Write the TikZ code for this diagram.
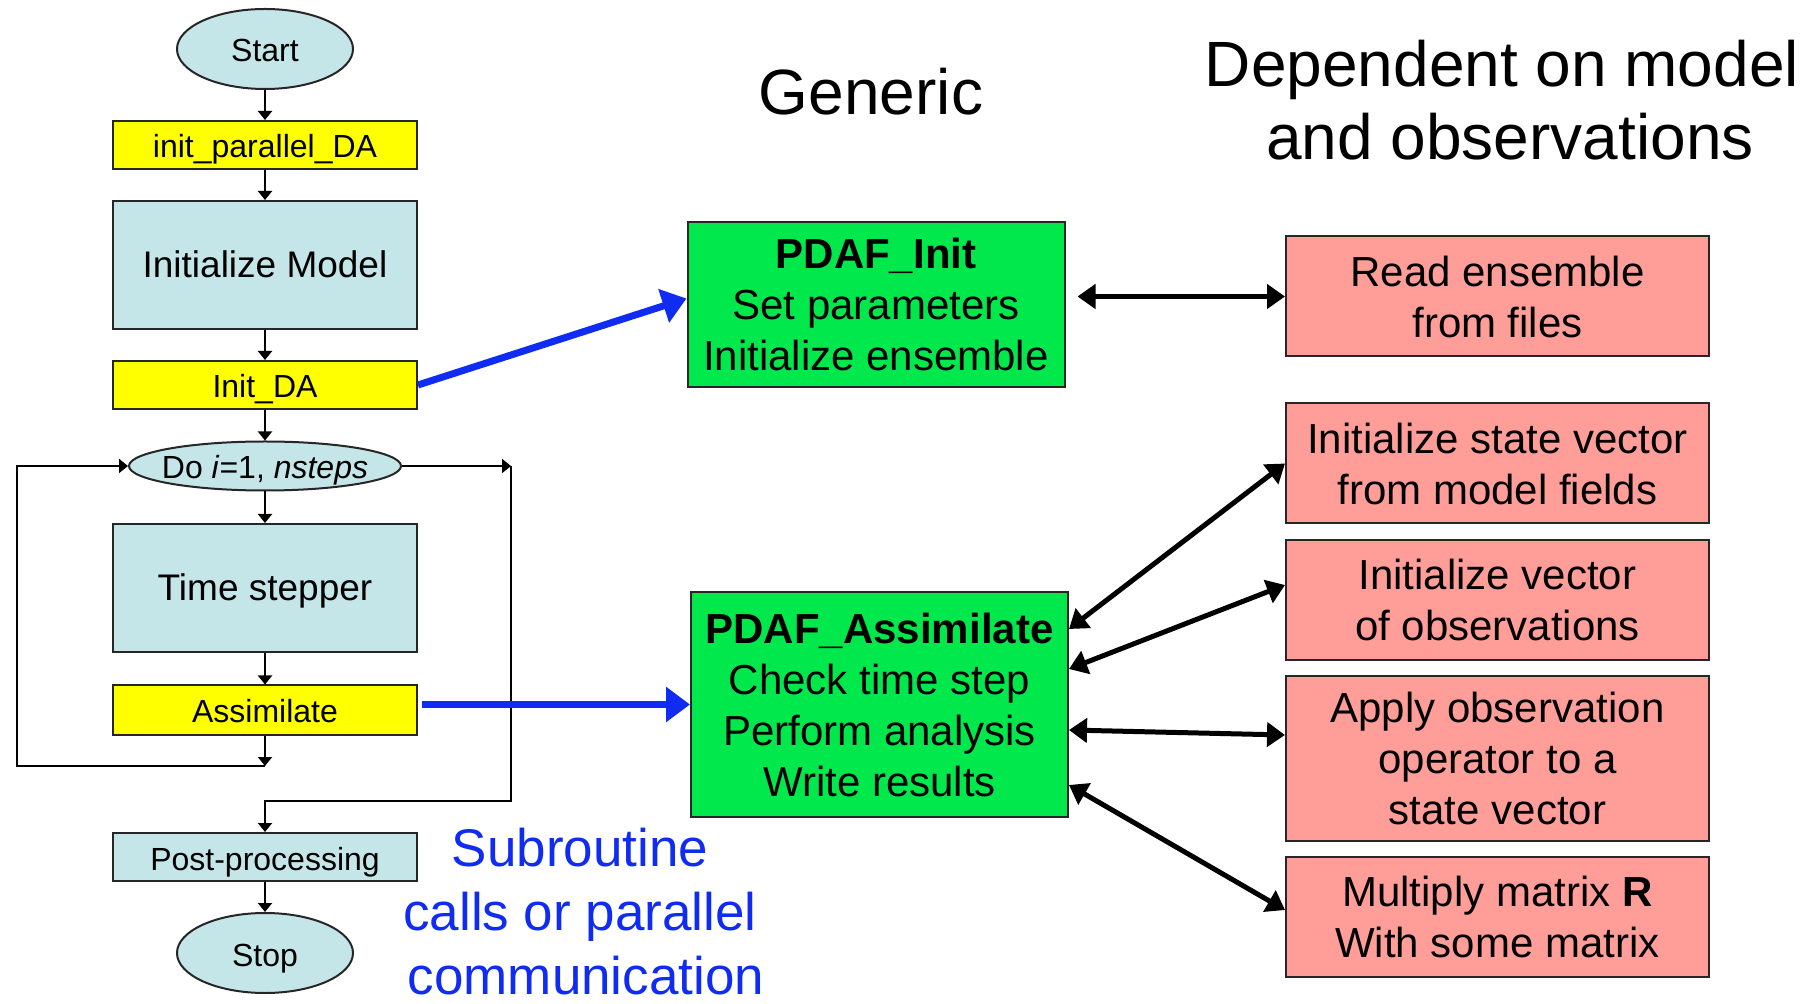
\documentclass[tikz,border=0pt]{standalone}
\usepackage{fontspec}
\setmainfont{Liberation Sans}
\usepackage{xcolor}
\usepackage{tikz}
\usetikzlibrary{shapes.geometric, arrows.meta}

\definecolor{flowcyan}{RGB}{197,230,232}
\definecolor{callyellow}{RGB}{255,255,0}
\definecolor{pdafgreen}{RGB}{0,232,76}
\definecolor{userred}{RGB}{255,158,153}
\definecolor{linkblue}{RGB}{16,44,242}

\begin{document}
\begin{tikzpicture}[x=0.5pt, y=-0.5pt,
		flow/.style={draw=black!85, line width=1pt, fill=flowcyan, minimum width=152pt, inner sep=0pt, text height=13pt, text depth=0pt, font=\fontsize{16}{19}\selectfont},
		call/.style={flow, fill=callyellow},
		term/.style={flow, ellipse, minimum width=88pt, minimum height=40pt},
		pdaf/.style={draw=black!85, line width=1pt, fill=pdafgreen, minimum width=188.5pt, align=center, font=\fontsize{21}{25.5}\selectfont},
		user/.style={draw=black!85, line width=1pt, fill=userred, minimum width=211.5pt, minimum height=60pt, align=center, font=\fontsize{21}{25.5}\selectfont},
		flowarrow/.style={line width=1pt, -{Triangle[length=4.5pt, width=7pt]}},
		link/.style={line width=3.5pt, draw=linkblue, -{Triangle[length=12pt, width=17pt]}},
		twoway/.style={line width=2.5pt, {Triangle[length=9pt, width=12pt]}-{Triangle[length=9pt, width=12pt]}}]
	\useasboundingbox (0,0) rectangle (1809,1004);
	
	\node[term] (start) at (265,49) {Start};
	\node[call, minimum height=24pt] (initpar) at (265,145) {init\_parallel\_DA};
	\node[flow, minimum height=64pt, font=\fontsize{18.5}{22}\selectfont] (initmodel) at (265,265) {Initialize Model};
	\node[call, minimum height=24pt] (initda) at (265,385) {Init\_DA};
	\node[flow, ellipse, minimum width=136pt, minimum height=24.5pt] (doloop) at (265,466) {\makebox[0pt]{Do \textit{i}=1, \textit{nsteps}}};
	\node[flow, minimum height=64pt, font=\fontsize{18.5}{22}\selectfont] (stepper) at (265,588) {Time stepper};
	\node[call, minimum height=24.5pt] (assim) at (265,710) {Assimilate};
	\node[flow, minimum height=24pt] (post) at (265,857) {Post-processing};
	\node[term] (stop) at (265,953) {Stop};
	
	\coordinate (loopback) at (265,766);
	\coordinate (loopleft) at (17,766);
	\coordinate (exitright) at (511,466);
	\coordinate (exitdown) at (265,801);
	
	\foreach \a/\b in {start/initpar, initpar/initmodel, initmodel/initda, initda/doloop, doloop/stepper, stepper/assim, assim/loopback, post/stop}
		\draw[flowarrow] (\a) -- (\b);
	\draw[flowarrow] (loopback) -- (loopleft) |- (doloop.west);
	\draw[flowarrow] (doloop.east) -- (exitright);
	\draw[flowarrow] (exitright) |- (exitdown) -- (post);
	
	\node[pdaf, minimum height=82.5pt] (pinit) at (876,304.5) {\textbf{PDAF\_Init}\\Set parameters\\Initialize ensemble};
	\node[pdaf, minimum height=112.5pt] (passim) at (879.5,704.5) {\textbf{PDAF\_Assimilate}\\Check time step\\Perform analysis\\Write results};
	
	\node[user] (read) at (1497.5,296.5) {Read ensemble\\from files};
	\node[user] (initstate) at (1497.5,463.5) {Initialize state vector\\from model fields};
	\node[user] (initobs) at (1497.5,600) {Initialize vector\\of observations};
	\node[user, minimum height=82.5pt] (apply) at (1497.5,758.5) {Apply observation\\operator to a\\state vector};
	\node[user] (multr) at (1497.5,917) {Multiply matrix \textbf{R}\\With some matrix};
	
	\draw[link] (initda.east) -- ([yshift=3pt]pinit.west);
	\draw[link, shorten <=2pt] (assim.east |- passim.west) -- (passim.west);
	
	\draw[twoway, shorten <=6pt] (pinit.east |- read.west) -- (read.west);
	\draw[twoway] ([yshift=37.75pt]passim.east) -- (initstate.west);
	\draw[twoway] ([yshift=17.75pt]passim.east) -- ([yshift=7.5pt]initobs.west);
	\draw[twoway] ([yshift=-12.75pt]passim.east) -- ([yshift=11.75pt]apply.west);
	\draw[twoway] ([yshift=-40.25pt]passim.east) -- ([yshift=3.5pt]multr.west);
	
	\node[font=\fontsize{32}{36.5}\selectfont] (generic) at (871,92) {Generic};
	\node[font=\fontsize{32}{36.5}\selectfont, align=center] (dependent) at (1502,100) {Dependent on model\\\hspace*{8pt}and observations};
	\node[font=\fontsize{26.5}{32}\selectfont, text=linkblue, align=center, inner sep=0pt] (subroutine) at (580,912) {Subroutine\\calls or parallel\\\hspace*{6pt}communication};
\end{tikzpicture}
\end{document}
